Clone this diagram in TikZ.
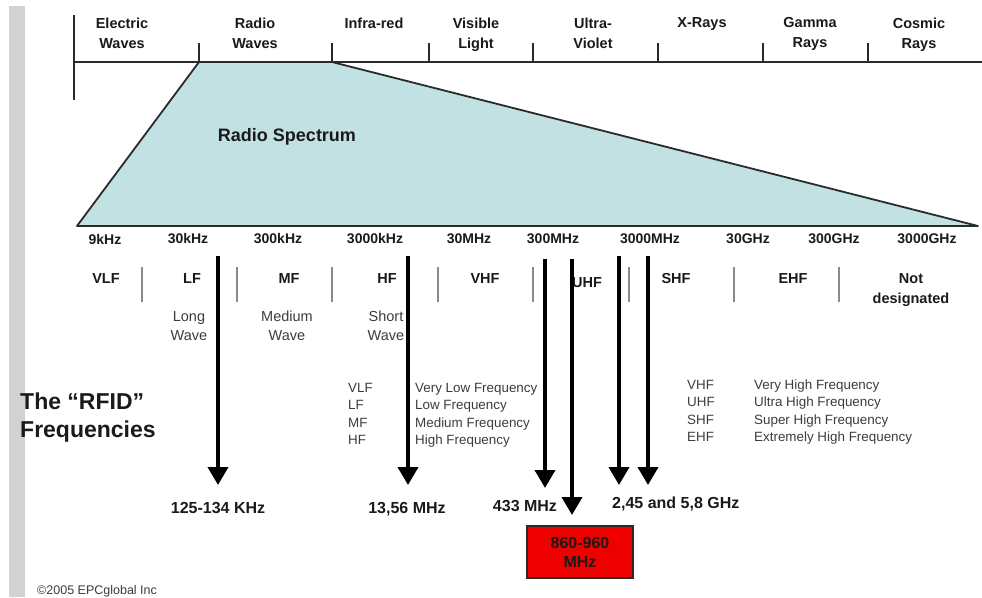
\documentclass[tikz,border=0pt]{standalone}
\usepackage{fontspec}
\setmainfont{Liberation Sans}
\usetikzlibrary{arrows.meta}
\definecolor{cbar}{HTML}{D2D2D4}
\definecolor{cspec}{HTML}{C2E1E3}
\definecolor{cline}{HTML}{2A2A2A}
\definecolor{csep}{HTML}{8A8A8A}
\definecolor{ctext}{HTML}{1A1A1A}
\definecolor{cnote}{HTML}{3C3C3C}
\definecolor{cred}{HTML}{EE0000}
\tikzset{
  every picture/.style={x=1pt, y=-1pt},
  region/.style={font=\bfseries\fontsize{14.5}{20}\selectfont, text=ctext, align=center, inner sep=0pt, anchor=north},
  band/.style={font=\bfseries\fontsize{14.5}{20}\selectfont, text=ctext, align=center, inner sep=0pt, anchor=north},
  freq/.style={font=\bfseries\fontsize{14}{16}\selectfont, text=ctext, inner sep=0pt},
  wave/.style={font=\fontsize{14.5}{19}\selectfont, text=cnote, align=center, inner sep=0pt, anchor=north},
  legend/.style={font=\fontsize{13.4}{17.5}\selectfont, text=cnote, inner sep=0pt, anchor=base west},
  rfid/.style={font=\bfseries\fontsize{16}{19}\selectfont, text=ctext, inner sep=0pt, anchor=base},
  rfarrow/.style={-{Triangle[width=20pt, length=18pt]}, line width=3.8pt, draw=black},
  sep/.style={draw=csep, line width=2.4pt},
  axis/.style={draw=cline, line width=2pt},
}

\begin{document}
\begin{tikzpicture}
  \useasboundingbox (0,0) rectangle (982,597);
  \fill[cbar] (9,6) rectangle (25,597);
  % Radio spectrum wedge
  \coordinate (sp1) at (199,62);
  \coordinate (sp2) at (332,62);
  \coordinate (sp3) at (978,226);
  \coordinate (sp4) at (77,226);
  \filldraw[fill=cspec, draw=cline, line width=1.8pt, line join=round] (sp1) -- (sp2) -- (sp3) -- (sp4) -- cycle;
  \node[font=\bfseries\fontsize{18}{20}\selectfont, text=ctext] (spec) at (287,137) {Radio Spectrum};
  % Top axis
  \draw[axis] (74,62) -- (982,62);
  \draw[axis] (74,15) -- (74,100);
  \foreach \x in {199,332,429,533,658,763,868}
    \draw[axis] (\x,43) -- (\x,62);
  \foreach \x/\t [count=\i] in {122/{Electric\\Waves}, 255/{Radio\\Waves}, 374/Infra-red, 476/{Visible\\Light},
      593/{Ultra-\\Violet}, 702/X-Rays, 810/{Gamma\\Rays}, 919/{Cosmic\\Rays}}
    \node[region] (reg\i) at (\x,17.5) {\t};
  % Frequencies
  \foreach \x/\t [count=\i] in {105/9kHz, 188/30kHz, 278/300kHz, 375/3000kHz, 469/30MHz,
      553/300MHz, 650/3000MHz, 748/30GHz, 834/300GHz, 927/3000GHz}
    \node[freq] (fr\i) at (\x,239) {\t};
  % Bands
  \foreach \x/\t [count=\i] in {106/VLF, 192/LF, 289/MF, 387/HF, 485/VHF, 676/SHF, 793/EHF, 911/{Not\\designated}}
    \node[band] (bd\i) at (\x,273) {\t};
  \node[band] (uhf) at (587,277) {UHF};
  \foreach \x in {142,237,332,438,533,629,734,839}
    \draw[sep] (\x,267) -- (\x,302);
  \node[wave] (long) at (189,311) {Long\\Wave};
  \node[wave] (medium) at (287,311) {Medium\\Wave};
  \node[wave] (short) at (386,311) {Short\\Wave};
  % RFID arrows
  \foreach \x/\ys/\ye [count=\i] in {218/256/485, 408/256/485, 545/259/488, 572/259/515, 619/256/485, 648/256/485} {
    \coordinate (as\i) at (\x,\ys);
    \coordinate (ae\i) at (\x,\ye);
    \draw[rfarrow] (as\i) -- (ae\i);
  }
  \node[rfid] (lf) at (218,513) {125-134 KHz};
  \node[rfid] (hf) at (407,513) {13,56 MHz};
  \node[rfid] (ism) at (525,511) {433 MHz};
  \node[rfid, anchor=base west] (mw) at (612,508) {2,45 and 5,8 GHz};
  \node[rfid, anchor=center, fill=cred, draw=cline, line width=1.2pt, minimum width=106pt, minimum height=52pt, align=center] (uhfbox) at (580,552) {860-960\\MHz};
  % Legends
  \foreach \ab/\t [count=\i] in {VLF/Very Low Frequency, LF/Low Frequency, MF/Medium Frequency, HF/High Frequency} {
    \node[legend] (lla\i) at (348,392+17.5*\i-17.5) {\ab};
    \node[legend] (llt\i) at (415,392+17.5*\i-17.5) {\t};
  }
  \foreach \ab/\t [count=\i] in {VHF/Very High Frequency, UHF/Ultra High Frequency, SHF/Super High Frequency, EHF/Extremely High Frequency} {
    \node[legend] (rla\i) at (687,389+17.6*\i-17.6) {\ab};
    \node[legend] (rlt\i) at (754,389+17.6*\i-17.6) {\t};
  }
  \node[font=\bfseries\fontsize{23}{28}\selectfont, text=ctext, align=left, anchor=north west, inner sep=0pt] (title) at (20,393) {The “RFID”\\Frequencies};
  \node[font=\fontsize{12.5}{14}\selectfont, text=cnote, anchor=base west, inner sep=0pt] (copy) at (37,594) {©2005 EPCglobal Inc};
\end{tikzpicture}
\end{document}
